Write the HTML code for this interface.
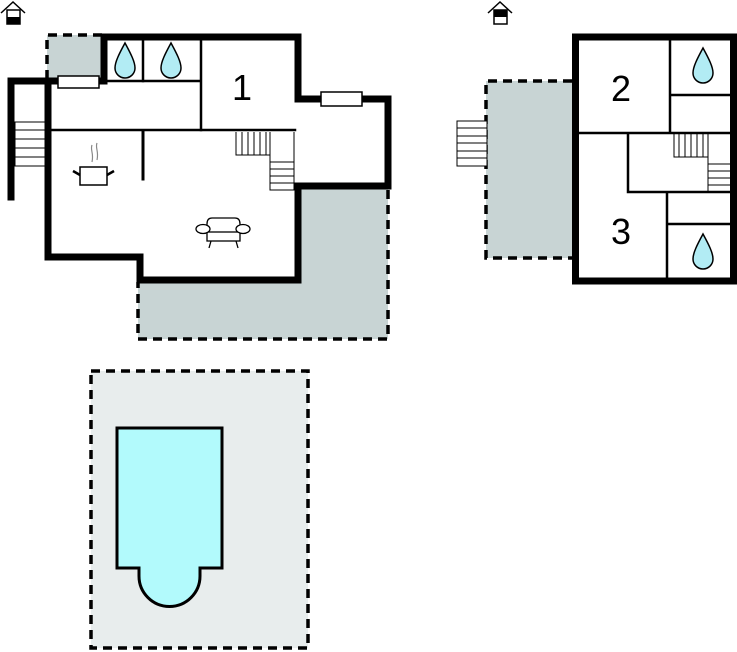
<!DOCTYPE html>
<html><head><meta charset="utf-8"><style>html,body{margin:0;padding:0;background:#fff}svg{display:block}</style></head>
<body>
<svg width="737" height="652" viewBox="0 0 737 652" xmlns="http://www.w3.org/2000/svg" font-family="Liberation Sans, sans-serif">
<g fill="none" stroke="#000" stroke-width="1.5">
<path d="M1,13 L13,2 L25,13"/><rect x="7" y="10" width="13" height="14" fill="#fff"/>
<path d="M488,13 L500,2 L512,13"/><rect x="494" y="10" width="13" height="14" fill="#fff"/>
</g>
<rect x="7" y="17" width="13" height="7" fill="#000"/>
<rect x="494" y="10" width="13" height="7" fill="#000"/>

<rect x="47" y="35" width="56" height="44" fill="#c8d4d4"/>
<path d="M47,79 V35 H103" fill="none" stroke="#000" stroke-width="3.5" stroke-dasharray="9,6"/>
<path d="M300,188 H388 V339 H138 V280 H300 Z" fill="#c8d4d4"/>
<path d="M388,190 V339 H138 V282" fill="none" stroke="#000" stroke-width="3.5" stroke-dasharray="9,6"/>

<g fill="none" stroke="#000" stroke-linecap="square">
<path d="M104,37 H298 V99 H388 V186 H298 V280 H140 V257 H48 V81 H11 V197" stroke-width="7"/>
<path d="M104,37 V81 H48" stroke-width="7"/>
<g stroke-width="2.5">
<line x1="104" y1="81" x2="200" y2="81"/>
<line x1="143" y1="40" x2="143" y2="81"/>
<line x1="201" y1="40" x2="201" y2="130"/>
<line x1="51" y1="130" x2="295" y2="130"/>
</g>
<line x1="143" y1="131" x2="143" y2="179" stroke-width="3"/>
</g>
<rect x="58" y="76" width="41" height="12" fill="#fff" stroke="#000" stroke-width="1.5"/>
<rect x="321" y="92" width="41" height="14" fill="#fff" stroke="#000" stroke-width="1.5"/>

<g stroke="#000" stroke-width="1" fill="#fff">
<rect x="15" y="122" width="30" height="44"/>
<line x1="15" y1="130" x2="45" y2="130"/><line x1="15" y1="139" x2="45" y2="139"/><line x1="15" y1="148" x2="45" y2="148"/><line x1="15" y1="157" x2="45" y2="157"/>
<path d="M236,132 V155 H270 V190 H294 V132" fill="none"/>
<line x1="242" y1="132" x2="242" y2="155"/><line x1="248" y1="132" x2="248" y2="155"/><line x1="254" y1="132" x2="254" y2="155"/><line x1="260" y1="132" x2="260" y2="155"/><line x1="266" y1="132" x2="266" y2="155"/><line x1="270" y1="132" x2="270" y2="155"/>
<line x1="270" y1="162" x2="294" y2="162"/><line x1="270" y1="169" x2="294" y2="169"/><line x1="270" y1="176" x2="294" y2="176"/><line x1="270" y1="183" x2="294" y2="183"/>
</g>

<g fill="#b2ecf4" stroke="#000" stroke-width="1.5">
<path d="M125,43 C119,54 115,62 115,68 A10,10 0 0 0 135,68 C135,62 131,54 125,43 Z"/>
<path d="M171,43 C165,54 161,62 161,68 A10,10 0 0 0 181,68 C181,62 177,54 171,43 Z"/>
<path d="M703,48 C697,59 693,67 693,73 A10,10 0 0 0 713,73 C713,67 709,59 703,48 Z"/>
<path d="M703,234 C697,245 693,253 693,259 A10,10 0 0 0 713,259 C713,253 709,245 703,234 Z"/>
</g>
<text x="242" y="100" font-size="36" text-anchor="middle">1</text>

<g stroke="#000" fill="#fff" stroke-width="1.5">
<rect x="80" y="167" width="27" height="18"/>
<line x1="73" y1="171" x2="80" y2="175" stroke-width="2.5"/><line x1="114" y1="171" x2="107" y2="175" stroke-width="2.5"/>
</g>
<path d="M92,145 c-2,5 2,8 0,17 M97,143 c-2,5 2,8 0,17" stroke="#888" stroke-width="1.2" fill="none"/>
<g stroke="#000" fill="#fff" stroke-width="1.3">
<path d="M207,232 V224 Q207,218 212,218 H235 Q240,218 240,224 V232"/>
<rect x="207" y="232" width="33" height="9"/>
<ellipse cx="203" cy="229" rx="7" ry="4.5"/><ellipse cx="243" cy="229" rx="7" ry="4.5"/>
<line x1="211" y1="241" x2="209" y2="248"/><line x1="236" y1="241" x2="238" y2="248"/>
</g>

<rect x="486" y="81" width="87" height="177" fill="#c8d4d4"/>
<path d="M572,81 H486 V258 H572" fill="none" stroke="#000" stroke-width="3.5" stroke-dasharray="9,6"/>
<g stroke="#000" stroke-width="1" fill="#fff">
<rect x="457" y="121" width="30" height="45"/>
<line x1="457" y1="128" x2="487" y2="128"/><line x1="457" y1="136" x2="487" y2="136"/><line x1="457" y1="143" x2="487" y2="143"/><line x1="457" y1="151" x2="487" y2="151"/><line x1="457" y1="158" x2="487" y2="158"/>
</g>
<rect x="575.5" y="37" width="158" height="244" fill="none" stroke="#000" stroke-width="7"/>
<g stroke="#000" stroke-width="2.5" fill="none">
<line x1="670" y1="40" x2="670" y2="133"/>
<line x1="670" y1="95" x2="732" y2="95"/>
<line x1="578" y1="133" x2="732" y2="133"/>
<path d="M628,133 V192 H732"/>
<line x1="667" y1="192" x2="667" y2="278"/>
<line x1="667" y1="224" x2="732" y2="224"/>
</g>
<g stroke="#000" stroke-width="1" fill="none">
<path d="M674,134 V157 H708 V192"/>
<line x1="679" y1="134" x2="679" y2="157"/><line x1="685" y1="134" x2="685" y2="157"/><line x1="691" y1="134" x2="691" y2="157"/><line x1="697" y1="134" x2="697" y2="157"/><line x1="703" y1="134" x2="703" y2="157"/><line x1="708" y1="134" x2="708" y2="157"/>
<line x1="708" y1="164" x2="731" y2="164"/><line x1="708" y1="171" x2="731" y2="171"/><line x1="708" y1="178" x2="731" y2="178"/><line x1="708" y1="185" x2="731" y2="185"/>
</g>
<text x="621" y="101" font-size="36" text-anchor="middle">2</text>
<text x="621" y="244" font-size="36" text-anchor="middle">3</text>

<rect x="91" y="371" width="217" height="277" fill="#e8eded"/>
<rect x="91" y="371" width="217" height="277" fill="none" stroke="#000" stroke-width="3.5" stroke-dasharray="9,6"/>
<path d="M117,428 H222 V568 H200 V576 A30.5,30.5 0 0 1 139,576 V568 H117 Z" fill="#b2fafc" stroke="#000" stroke-width="3"/>
</svg>
</body></html>
